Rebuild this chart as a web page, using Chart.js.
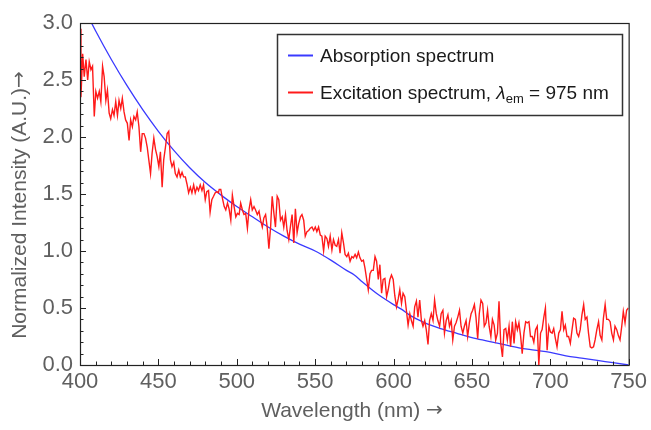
<!DOCTYPE html>
<html>
<head>
<meta charset="utf-8">
<script src="https://cdn.jsdelivr.net/npm/chart.js@4.4.1/dist/chart.umd.min.js"></script>
<style>
  body { margin: 0; background: #fff; }
</style>
</head>
<body>
<canvas id="spectraChart" width="651" height="430"></canvas>
<script>
const xMajorTicks = [400, 450, 500, 550, 600, 650, 700, 750];
const yMajorTicks = [0, 0.5, 1.0, 1.5, 2.0, 2.5, 3.0];
const xTitle = 'Wavelength (nm) ';
const yTitle = 'Normalized Intensity (A.U.)';

// absorption spectrum (smooth, blue)
const absorptionWavelengths = [400, 410, 420, 430, 440, 450, 460, 470, 480, 490, 500, 510, 520, 530, 540, 550, 560, 570, 575, 580, 590, 600, 605, 610, 620, 630, 640, 650, 660, 670, 680, 690, 700, 710, 720, 730, 740, 750];
const absorptionValues = [3.20, 2.93, 2.68, 2.45, 2.24, 2.05, 1.88, 1.73, 1.60, 1.49, 1.39, 1.30, 1.21, 1.13, 1.06, 1.00, 0.92, 0.83, 0.79, 0.73, 0.62, 0.53, 0.49, 0.44, 0.37, 0.32, 0.28, 0.24, 0.21, 0.18, 0.15, 0.13, 0.11, 0.08, 0.06, 0.04, 0.02, 0.00];

// excitation spectrum (noisy, red), lambda_em = 975 nm
const excitationWavelengths = [
  400.0, 400.6, 401.7, 402.7, 403.8, 404.9, 405.9, 407.0, 408.0, 409.1, 410.1, 411.2, 412.3, 413.3, 414.4, 415.4, 416.5, 417.5, 418.6, 419.6,
  420.7, 421.7, 422.8, 423.9, 424.9, 426.0, 427.0, 428.1, 429.1, 430.2, 431.3, 432.3, 433.4, 434.4, 435.5, 436.5, 437.6, 438.7, 439.7, 440.8,
  441.8, 442.9, 443.9, 445.0, 446.0, 447.1, 448.2, 449.2, 450.3, 451.3, 452.4, 453.4, 454.5, 455.6, 456.6, 457.7, 458.7, 459.8, 460.8, 461.9,
  463.0, 464.0, 465.1, 466.1, 467.2, 468.2, 469.3, 470.4, 471.4, 472.5, 473.5, 474.6, 475.6, 476.7, 477.8, 478.8, 479.9, 480.9, 482.0, 483.0,
  484.1, 485.2, 486.2, 487.3, 488.3,
  488.8, 489.8, 490.9, 492.0, 493.0, 494.1, 495.1, 496.2, 497.2, 498.3, 499.4, 500.4, 501.5, 502.5, 503.6, 504.6, 505.7, 506.8, 507.8, 508.9,
  509.9, 511.0, 512.0, 513.1, 514.2, 515.2, 516.3, 517.3, 518.4, 519.4, 520.5, 521.6, 522.6, 523.7, 524.7, 525.8, 526.8, 527.9, 529.0, 530.0,
  531.1, 532.1, 533.2, 534.2, 535.3, 536.4, 537.4, 538.5, 539.5, 540.6, 541.6, 542.7, 543.7, 544.8, 545.9, 546.9, 548.0, 549.0, 550.1, 551.1,
  552.2, 553.3, 554.3, 555.4, 556.4, 557.5, 558.5, 559.6, 560.7, 561.7, 562.8, 563.8, 564.9, 565.9, 567.0, 568.1, 569.1, 570.2, 571.2,
  572.3, 573.4, 574.4, 575.5, 576.5, 577.6, 578.6, 579.7, 580.8, 581.8, 582.9, 583.9, 585.0, 586.0, 587.1, 588.2, 589.2, 590.3, 591.3, 592.4,
  593.4, 594.5, 595.6, 596.6, 597.7, 598.7, 599.8, 600.8, 601.9, 603.0, 604.0, 605.1, 606.1, 607.2, 608.2, 609.3, 610.4, 611.4, 612.5, 613.5,
  614.6, 615.6, 616.7, 617.8, 618.8, 619.9, 620.9, 622.0, 623.0, 624.1, 625.2, 626.2, 627.3, 628.3, 629.4, 630.4, 631.5, 632.5, 633.6, 634.7,
  635.7, 636.8, 637.8, 638.9, 639.9, 641.0, 642.1, 643.1, 644.2, 645.2, 646.3, 647.3, 648.4, 649.5, 650.5, 651.6, 652.6, 653.7, 654.7, 655.8,
  656.9, 657.9, 659.0, 660.0,
  661.0, 662.1, 663.1, 664.2, 665.2, 666.3, 667.3, 668.4, 669.5, 670.5, 671.6, 672.6, 673.7, 674.7, 675.8, 676.9, 677.9, 679.0, 680.0, 681.1,
  682.1, 683.2, 684.3, 685.3, 686.4, 687.4, 688.5, 689.5, 690.6, 691.7, 692.7, 693.8, 694.8, 695.9, 696.9, 698.0, 699.1, 700.1, 701.2, 702.2,
  703.3, 704.3, 705.4, 706.5, 707.5, 708.6, 709.6, 710.7, 711.7, 712.8, 713.9, 714.9, 716.0, 717.0, 718.1, 719.1, 720.2, 721.3, 722.3, 723.4,
  724.4, 725.5, 726.5, 727.6, 728.6, 729.7, 730.8, 731.8, 732.9, 733.9, 735.0, 736.0, 737.1, 738.2, 739.2, 740.3, 741.3, 742.4, 743.4, 744.5,
  745.6, 746.6, 747.7, 748.7, 749.8
];
const excitationValues = [
  2.95, 2.35, 2.73, 2.53, 2.68, 2.50, 2.66, 2.59, 2.62, 2.18, 2.40, 2.34, 2.40, 2.31, 2.62, 2.53, 2.32, 2.41, 2.21, 2.16,
  2.24, 2.19, 2.31, 2.19, 2.32, 2.25, 2.34, 2.22, 2.15, 2.12, 1.97, 2.15, 2.09, 2.18, 2.15, 2.22, 2.09, 1.87, 2.03, 2.03,
  1.99, 1.91, 1.80, 1.68, 1.86, 1.99, 1.89, 1.83, 1.74, 1.87, 1.56, 1.80, 1.91, 2.03, 2.05, 1.80, 1.74, 1.78, 1.68, 1.65,
  1.71, 1.65, 1.69, 1.65, 1.65, 1.59, 1.51, 1.56, 1.51, 1.58, 1.51, 1.56, 1.53, 1.58, 1.53, 1.58, 1.45, 1.52, 1.53, 1.34,
  1.45, 1.48, 1.51, 1.52, 1.51,
  1.54, 1.54, 1.46, 1.39, 1.36, 1.42, 1.37, 1.27, 1.49, 1.39, 1.30, 1.33, 1.32, 1.42, 1.36, 1.32, 1.33, 1.20, 1.36, 1.45,
  1.36, 1.39, 1.36, 1.32, 1.35, 1.27, 1.21, 1.29, 1.32, 1.21, 1.02, 1.21, 1.48, 1.33, 1.21, 1.48, 1.45, 1.27, 1.30, 1.21,
  1.32, 1.18, 1.10, 1.21, 1.32, 1.07, 1.37, 1.16, 1.24, 1.30, 1.32, 1.27, 1.13, 1.17, 1.18, 1.20, 1.21, 1.18, 1.21, 1.17,
  1.21, 1.14, 1.13, 1.00, 1.13, 1.11, 1.04, 1.13, 1.01, 1.10, 1.05, 1.04, 1.10, 0.98, 1.16, 1.07, 0.97, 0.95, 0.98,
  0.91, 0.95, 0.94, 0.97, 0.94, 0.99, 0.94, 0.91, 0.92, 0.85, 0.75, 0.66, 0.80, 0.83, 0.83, 0.95, 0.91, 0.75, 0.88, 0.63,
  0.75, 0.76, 0.60, 0.66, 0.75, 0.79, 0.75, 0.61, 0.51, 0.58, 0.66, 0.54, 0.63, 0.60, 0.48, 0.35, 0.45, 0.39, 0.34, 0.51,
  0.56, 0.42, 0.57, 0.39, 0.34, 0.39, 0.31, 0.18, 0.39, 0.45, 0.39, 0.57, 0.45, 0.39, 0.34, 0.45, 0.48, 0.28, 0.39, 0.44,
  0.34, 0.39, 0.22, 0.34, 0.37, 0.42, 0.48, 0.34, 0.28, 0.34, 0.39, 0.25, 0.37, 0.45, 0.48, 0.53, 0.42, 0.23, 0.45, 0.57,
  0.54, 0.34, 0.37, 0.48,
  0.34, 0.25, 0.40, 0.35, 0.22, 0.28, 0.56, 0.19, 0.07, 0.31, 0.32, 0.22, 0.34, 0.16, 0.38, 0.19, 0.38, 0.31, 0.37, 0.25,
  0.10, 0.28, 0.38, 0.37, 0.38, 0.25, 0.25, 0.20, 0.31, 0.34, 0.00, 0.28, 0.31, 0.42, 0.50, 0.13, 0.34, 0.29, 0.28, 0.32,
  0.23, 0.16, 0.28, 0.31, 0.47, 0.31, 0.35, 0.25, 0.25, 0.19, 0.31, 0.41, 0.40, 0.28, 0.25, 0.31, 0.44, 0.53, 0.40, 0.42,
  0.28, 0.16, 0.15, 0.16, 0.22, 0.31, 0.38, 0.26, 0.22, 0.41, 0.53, 0.40, 0.40, 0.38, 0.28, 0.22, 0.34, 0.31, 0.26, 0.22,
  0.34, 0.47, 0.37, 0.48, 0.50
];

const ABSORPTION_COLOR = '#3a3aff';
const EXCITATION_COLOR = '#ff1a1a';
const AXIS_COLOR = '#222';
const LABEL_COLOR = '#5f5f5f';
const FONT_FAMILY = "'Liberation Sans', Arial, sans-serif";
const ARROW_FONT = "'DejaVu Sans', sans-serif";

const toPoints = function (xs, ys) {
    return xs.map(function (x, i) {
        return { x: x, y: ys[i] };
    });
}

// frame on all four sides, inward ticks on left and bottom
const frameAndTicks = {
    id: 'frameAndTicks',
    afterDatasetsDraw: function (chart) {
        const { ctx, chartArea: area, scales } = chart;
        ctx.save();
        ctx.strokeStyle = AXIS_COLOR;
        ctx.lineWidth = 1;
        ctx.beginPath();
        for (let i = 0; i <= 35; i++) {
            const x = Math.round(scales.x.getPixelForValue(400 + i * 10)) + 0.5;
            const len = i % 5 === 0 ? 6 : 3.5;
            ctx.moveTo(x, area.bottom);
            ctx.lineTo(x, area.bottom - len);
        }
        for (let i = 0; i <= 30; i++) {
            const y = Math.round(scales.y.getPixelForValue(i / 10)) + 0.5;
            const len = i % 5 === 0 ? 6 : 3.5;
            ctx.moveTo(area.left, y);
            ctx.lineTo(area.left + len, y);
        }
        ctx.stroke();
        ctx.lineWidth = 1.2;
        ctx.strokeRect(area.left + 0.5, area.top + 0.5, area.right - area.left, area.bottom - area.top);
        ctx.restore();
    }
}

// axis titles with a full-size arrow glyph
const drawTitle = function (ctx, text, cx, cy) {
    ctx.font = '21px ' + FONT_FAMILY;
    const textWidth = ctx.measureText(text).width;
    ctx.font = '20px ' + ARROW_FONT;
    const arrowWidth = ctx.measureText('\u2192').width;
    const start = cx - (textWidth + arrowWidth) / 2;
    ctx.font = '21px ' + FONT_FAMILY;
    ctx.fillText(text, start, cy);
    ctx.font = '20px ' + ARROW_FONT;
    ctx.fillText('\u2192', start + textWidth, cy);
}

const axisTitles = {
    id: 'axisTitles',
    afterDraw: function (chart) {
        const ctx = chart.ctx;
        ctx.save();
        ctx.fillStyle = LABEL_COLOR;
        ctx.textBaseline = 'middle';
        drawTitle(ctx, xTitle, 352, 411);
        ctx.translate(20, 205);
        ctx.rotate(-Math.PI / 2);
        drawTitle(ctx, yTitle, 0, 0);
        ctx.restore();
    }
}

// boxed legend with lambda_em subscript
const spectraLegend = {
    id: 'spectraLegend',
    afterDraw: function (chart) {
        const ctx = chart.ctx;
        const box = { left: 277, top: 34, width: 345, height: 81 };
        ctx.save();
        ctx.fillStyle = '#fff';
        ctx.fillRect(box.left, box.top, box.width, box.height);
        ctx.strokeStyle = '#333';
        ctx.lineWidth = 1.5;
        ctx.strokeRect(box.left + 0.5, box.top + 0.5, box.width, box.height);

        const rows = [
            { color: ABSORPTION_COLOR, y: 55.5 },
            { color: EXCITATION_COLOR, y: 92.5 }
        ];
        rows.forEach(function (row) {
            ctx.strokeStyle = row.color;
            ctx.lineWidth = 2;
            ctx.beginPath();
            ctx.moveTo(288, row.y);
            ctx.lineTo(313, row.y);
            ctx.stroke();
        });

        ctx.fillStyle = '#1a1a1a';
        ctx.textBaseline = 'alphabetic';
        ctx.font = '19px ' + FONT_FAMILY;
        ctx.fillText('Absorption spectrum', 320, 62);

        let x = 320;
        const base = 99;
        const first = 'Excitation spectrum, ';
        ctx.fillText(first, x, base);
        x += ctx.measureText(first).width;
        ctx.font = 'italic 19px ' + FONT_FAMILY;
        ctx.fillText('\u03bb', x, base);
        x += ctx.measureText('\u03bb').width;
        ctx.font = '13px ' + FONT_FAMILY;
        ctx.fillText('em', x, base + 4);
        x += ctx.measureText('em').width;
        ctx.font = '19px ' + FONT_FAMILY;
        ctx.fillText(' = 975 nm', x, base);
        ctx.restore();
    }
}

const chartConfig = {
    type: 'line',
    data: {
        datasets: [{
            label: 'Excitation spectrum, \u03bbem = 975 nm',
            data: toPoints(excitationWavelengths, excitationValues),
            borderColor: EXCITATION_COLOR,
            borderWidth: 1.4,
            pointRadius: 0,
            tension: 0,
            fill: false,
            order: 0
        }, {
            label: 'Absorption spectrum',
            data: toPoints(absorptionWavelengths, absorptionValues),
            borderColor: ABSORPTION_COLOR,
            borderWidth: 1.3,
            pointRadius: 0,
            cubicInterpolationMode: 'monotone',
            fill: false,
            order: 1
        }]
    },
    options: {
        responsive: false,
        animation: false,
        devicePixelRatio: 1,
        layout: { padding: { top: 23, right: 19, bottom: 0, left: 0 } },
        plugins: {
            legend: { display: false },
            tooltip: { enabled: false }
        },
        scales: {
            x: {
                type: 'linear',
                min: 400,
                max: 750,
                afterBuildTicks: function (scale) {
                    scale.ticks = xMajorTicks.map(function (v) { return { value: v }; });
                },
                afterFit: function (scale) { scale.height = 65; },
                grid: { display: false, drawTicks: false },
                border: { display: false },
                ticks: {
                    color: LABEL_COLOR,
                    font: { size: 22, family: FONT_FAMILY },
                    padding: 4,
                    maxRotation: 0,
                    autoSkip: false
                }
            },
            y: {
                min: 0,
                max: 3,
                afterBuildTicks: function (scale) {
                    scale.ticks = yMajorTicks.map(function (v) { return { value: v }; });
                },
                afterFit: function (scale) { scale.width = 80; },
                grid: { display: false, drawTicks: false },
                border: { display: false },
                ticks: {
                    color: LABEL_COLOR,
                    font: { size: 22, family: FONT_FAMILY },
                    padding: 7,
                    callback: function (value) { return value.toFixed(1); }
                }
            }
        }
    },
    plugins: [frameAndTicks, axisTitles, spectraLegend]
}

const spectraChart = new Chart(document.getElementById('spectraChart'), chartConfig);
</script>
</body>
</html>
